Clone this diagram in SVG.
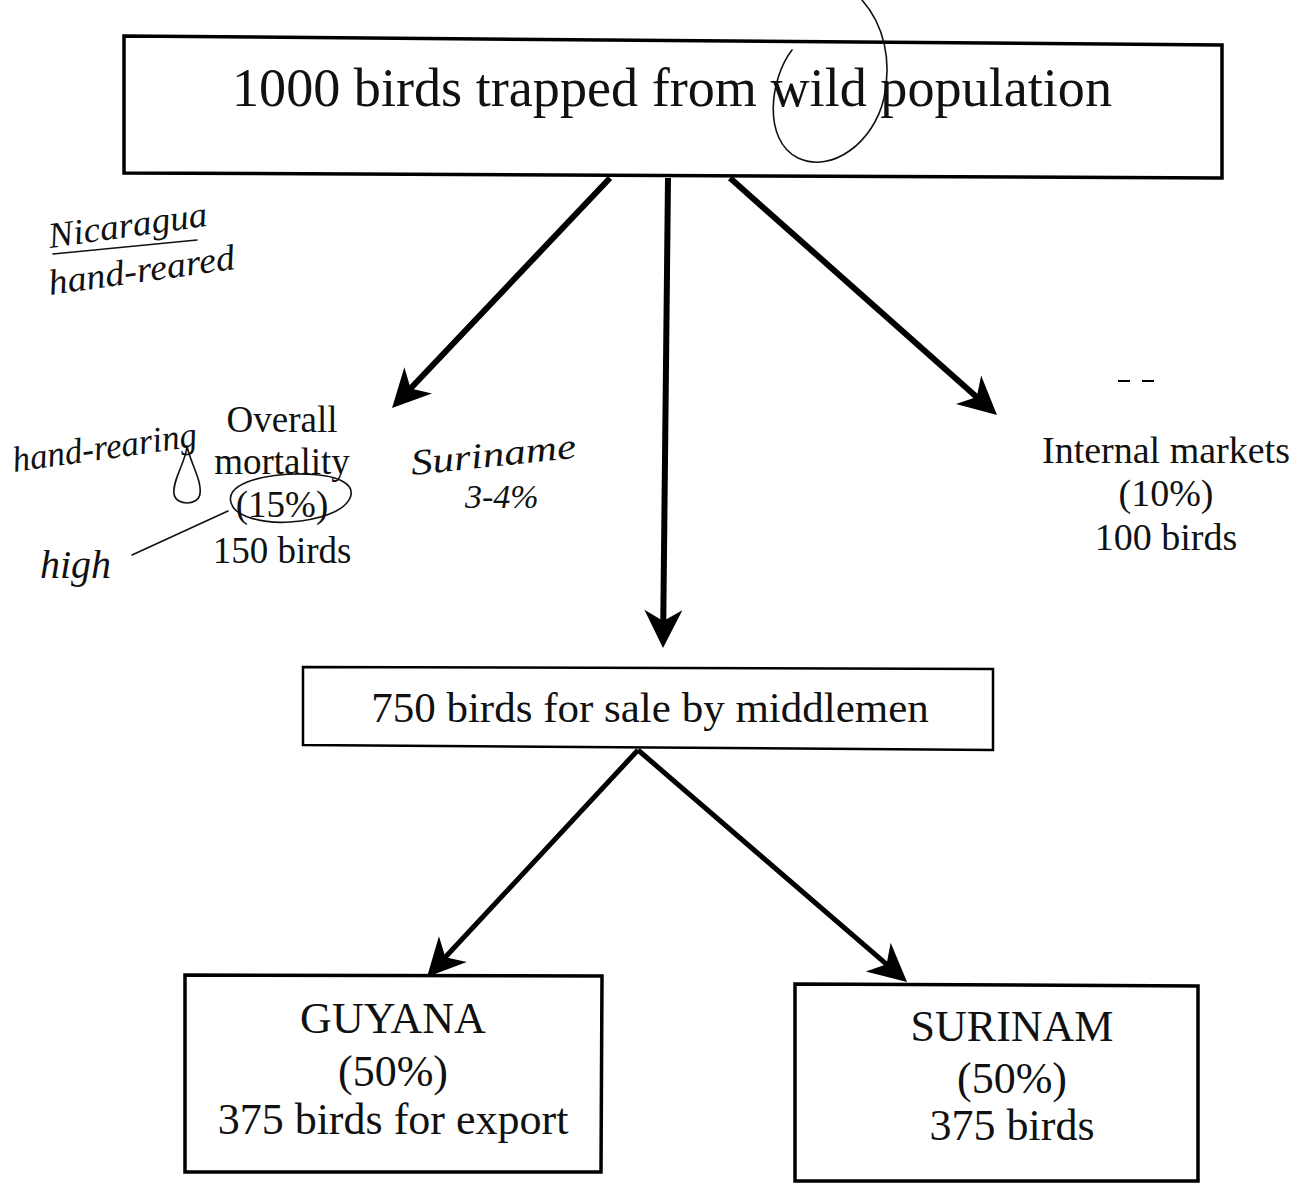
<svg xmlns="http://www.w3.org/2000/svg" width="1303" height="1183" viewBox="0 0 1303 1183">
  <style>
    .box { fill: none; stroke: #000; stroke-width: 3.5; stroke-linejoin: miter; }
    .t { font-family: "Liberation Serif", "Times New Roman", serif; fill: #111; text-anchor: middle; }
    .link { stroke: #000; stroke-width: 6; fill: none; marker-end: url(#head); }
    .hand { font-family: "Liberation Serif", serif; font-style: italic; fill: #111; }
    .ink { fill: none; stroke: #111; stroke-width: 1.6; stroke-linecap: round; }
  </style>
  <defs>
    <marker id="head" markerUnits="userSpaceOnUse" viewBox="-40 -21 44 42" refX="-20" refY="0" markerWidth="44" markerHeight="42" orient="auto">
      <path d="M0,0 L-38,-19 L-27,0 L-38,19 Z" fill="#000"/>
    </marker>
  </defs>
  <rect width="1303" height="1183" fill="#fff"/>

  <!-- connectors -->
  <g id="connectors">
    <line class="link" x1="610" y1="178" x2="405.8" y2="393.5"/>
    <line class="link" x1="668" y1="178" x2="663.2" y2="628"/>
    <line class="link" x1="730" y1="178" x2="982" y2="401.7"/>
    <line class="link" style="stroke-width:5" x1="638" y1="750" x2="440.6" y2="962.3"/>
    <line class="link" style="stroke-width:5" x1="638" y1="750" x2="891.9" y2="968.9"/>
  </g>

  <!-- source node -->
  <g id="trapped">
    <polygon class="box" points="124,36 1222,45 1222,178 124,173"/>
    <text class="t" x="672" y="106" font-size="54" textLength="880" lengthAdjust="spacingAndGlyphs">1000 birds trapped from wild population</text>
  </g>

  <!-- mortality outcome -->
  <g id="mortality">
    <text class="t" x="282" y="432" font-size="37">Overall</text>
    <text class="t" x="282" y="474" font-size="37">mortality</text>
    <text class="t" x="282" y="517" font-size="37">(15%)</text>
    <text class="t" x="282" y="563" font-size="37">150 birds</text>
  </g>

  <!-- internal markets outcome -->
  <g id="internal">
    <text class="t" x="1166" y="463" font-size="38">Internal markets</text>
    <text class="t" x="1166" y="506" font-size="38">(10%)</text>
    <text class="t" x="1166" y="550" font-size="38">100 birds</text>
    <line x1="1118" y1="381" x2="1130" y2="381" stroke="#000" stroke-width="2"/>
    <line x1="1142" y1="381" x2="1154" y2="381" stroke="#000" stroke-width="2"/>
  </g>

  <!-- middlemen -->
  <g id="middlemen">
    <polygon class="box" style="stroke-width:2.5" points="303,667 993,669 993,750 303,745"/>
    <text class="t" x="650" y="722" font-size="43">750 birds for sale by middlemen</text>
  </g>

  <!-- export destinations -->
  <g id="guyana">
    <polygon class="box" points="185,975 602,976 601,1172 185,1172"/>
    <text class="t" x="393" y="1033" font-size="44">GUYANA</text>
    <text class="t" x="393" y="1086" font-size="44">(50%)</text>
    <text class="t" x="393" y="1134" font-size="44">375 birds for export</text>
  </g>
  <g id="surinam">
    <polygon class="box" points="795,984 1198,986 1198,1181 795,1181"/>
    <text class="t" x="1012" y="1041" font-size="44">SURINAM</text>
    <text class="t" x="1012" y="1093" font-size="44">(50%)</text>
    <text class="t" x="1012" y="1140" font-size="44">375 birds</text>
  </g>

  <!-- pen annotations -->
  <g id="notes">
    <path class="ink" d="M792,50 C770,78 762,140 798,158 C832,174 874,142 884,98 C892,60 884,25 862,0"/>
    <text class="hand" x="50" y="248" font-size="36" textLength="160" lengthAdjust="spacingAndGlyphs" transform="rotate(-8 50 248)">Nicaragua</text>
    <line class="ink" x1="53" y1="254" x2="197" y2="240"/>
    <text class="hand" x="50" y="295" font-size="36" textLength="188" lengthAdjust="spacingAndGlyphs" transform="rotate(-8 50 295)">hand-reared</text>
    <text class="hand" x="14" y="472" font-size="36" textLength="186" lengthAdjust="spacingAndGlyphs" transform="rotate(-8 14 472)">hand-rearing</text>
    <path class="ink" d="M187,446 C186,462 172,480 174,494 C176,506 198,506 200,494 C202,480 190,462 187,446"/>
    <text class="hand" x="40" y="578" font-size="40">high</text>
    <line class="ink" x1="132" y1="555" x2="228" y2="511"/>
    <path class="ink" d="M232,505 C222,485 260,474 300,474 C338,474 356,484 350,498 C344,512 318,520 290,522 C262,524 236,516 232,505"/>
    <text class="hand" x="412" y="475" font-size="36" textLength="166" lengthAdjust="spacingAndGlyphs" transform="rotate(-6 412 475)">Suriname</text>
    <text class="hand" x="465" y="508" font-size="34">3-4%</text>
  </g>
</svg>
